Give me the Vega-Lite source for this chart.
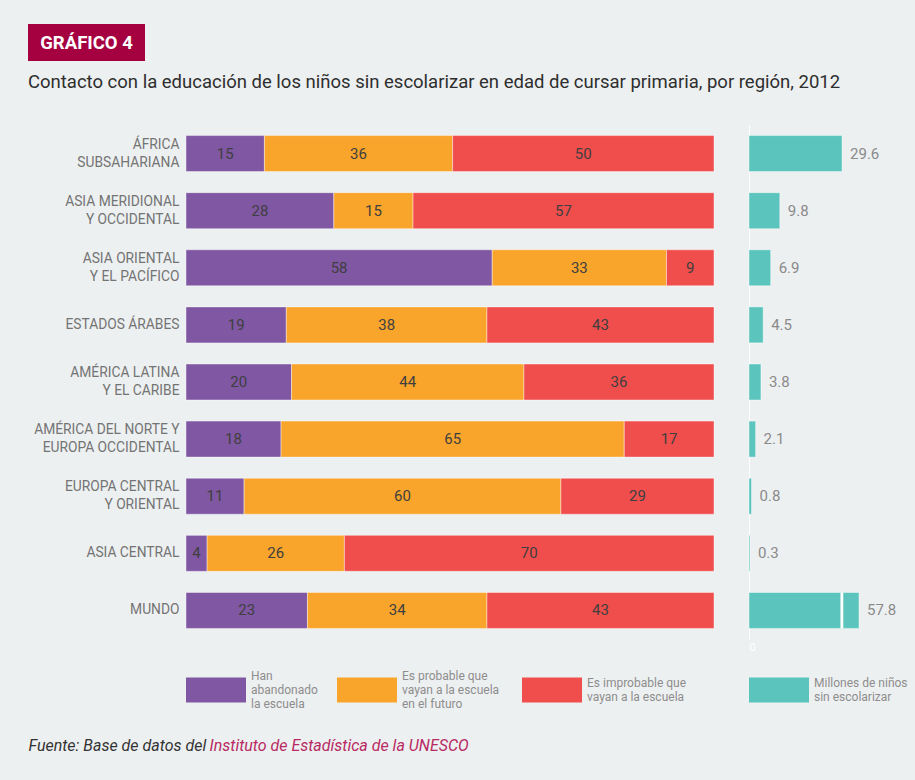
{
  "$schema": "https://vega.github.io/schema/vega-lite/v6.json",
  "background": "#edf0f1",
  "padding": {"left": 28, "top": 24, "right": 18, "bottom": 25},
  "config": {
    "view": {"stroke": null},
    "font": "Roboto"
  },
  "datasets": {
    "main": [
      {"region": "ÁFRICA|SUBSAHARIANA", "category": "Han abandonado la escuela", "order": 1, "pct": 15},
      {"region": "ÁFRICA|SUBSAHARIANA", "category": "Es probable que vayan a la escuela en el futuro", "order": 2, "pct": 36},
      {"region": "ÁFRICA|SUBSAHARIANA", "category": "Es improbable que vayan a la escuela", "order": 3, "pct": 50},
      {"region": "ASIA MERIDIONAL|Y OCCIDENTAL", "category": "Han abandonado la escuela", "order": 1, "pct": 28},
      {"region": "ASIA MERIDIONAL|Y OCCIDENTAL", "category": "Es probable que vayan a la escuela en el futuro", "order": 2, "pct": 15},
      {"region": "ASIA MERIDIONAL|Y OCCIDENTAL", "category": "Es improbable que vayan a la escuela", "order": 3, "pct": 57},
      {"region": "ASIA ORIENTAL|Y EL PACÍFICO", "category": "Han abandonado la escuela", "order": 1, "pct": 58},
      {"region": "ASIA ORIENTAL|Y EL PACÍFICO", "category": "Es probable que vayan a la escuela en el futuro", "order": 2, "pct": 33},
      {"region": "ASIA ORIENTAL|Y EL PACÍFICO", "category": "Es improbable que vayan a la escuela", "order": 3, "pct": 9},
      {"region": "ESTADOS ÁRABES", "category": "Han abandonado la escuela", "order": 1, "pct": 19},
      {"region": "ESTADOS ÁRABES", "category": "Es probable que vayan a la escuela en el futuro", "order": 2, "pct": 38},
      {"region": "ESTADOS ÁRABES", "category": "Es improbable que vayan a la escuela", "order": 3, "pct": 43},
      {"region": "AMÉRICA LATINA|Y EL CARIBE", "category": "Han abandonado la escuela", "order": 1, "pct": 20},
      {"region": "AMÉRICA LATINA|Y EL CARIBE", "category": "Es probable que vayan a la escuela en el futuro", "order": 2, "pct": 44},
      {"region": "AMÉRICA LATINA|Y EL CARIBE", "category": "Es improbable que vayan a la escuela", "order": 3, "pct": 36},
      {"region": "AMÉRICA DEL NORTE Y|EUROPA OCCIDENTAL", "category": "Han abandonado la escuela", "order": 1, "pct": 18},
      {"region": "AMÉRICA DEL NORTE Y|EUROPA OCCIDENTAL", "category": "Es probable que vayan a la escuela en el futuro", "order": 2, "pct": 65},
      {"region": "AMÉRICA DEL NORTE Y|EUROPA OCCIDENTAL", "category": "Es improbable que vayan a la escuela", "order": 3, "pct": 17},
      {"region": "EUROPA CENTRAL|Y ORIENTAL", "category": "Han abandonado la escuela", "order": 1, "pct": 11},
      {"region": "EUROPA CENTRAL|Y ORIENTAL", "category": "Es probable que vayan a la escuela en el futuro", "order": 2, "pct": 60},
      {"region": "EUROPA CENTRAL|Y ORIENTAL", "category": "Es improbable que vayan a la escuela", "order": 3, "pct": 29},
      {"region": "ASIA CENTRAL", "category": "Han abandonado la escuela", "order": 1, "pct": 4},
      {"region": "ASIA CENTRAL", "category": "Es probable que vayan a la escuela en el futuro", "order": 2, "pct": 26},
      {"region": "ASIA CENTRAL", "category": "Es improbable que vayan a la escuela", "order": 3, "pct": 70},
      {"region": "MUNDO", "category": "Han abandonado la escuela", "order": 1, "pct": 23},
      {"region": "MUNDO", "category": "Es probable que vayan a la escuela en el futuro", "order": 2, "pct": 34},
      {"region": "MUNDO", "category": "Es improbable que vayan a la escuela", "order": 3, "pct": 43}
    ],
    "mil": [
      {"region": "ÁFRICA|SUBSAHARIANA", "millones": 29.6},
      {"region": "ASIA MERIDIONAL|Y OCCIDENTAL", "millones": 9.8},
      {"region": "ASIA ORIENTAL|Y EL PACÍFICO", "millones": 6.9},
      {"region": "ESTADOS ÁRABES", "millones": 4.5},
      {"region": "AMÉRICA LATINA|Y EL CARIBE", "millones": 3.8},
      {"region": "AMÉRICA DEL NORTE Y|EUROPA OCCIDENTAL", "millones": 2.1},
      {"region": "EUROPA CENTRAL|Y ORIENTAL", "millones": 0.8},
      {"region": "ASIA CENTRAL", "millones": 0.3},
      {"region": "MUNDO", "millones": 57.8}
    ]
  },
  "spacing": 33,
  "vconcat": [
    {
      "width": 117,
      "height": 37,
      "view": {"fill": "#a5003f", "stroke": null},
      "data": {"values": [{}]},
      "title": {
        "text": "Contacto con la educación de los niños sin escolarizar en edad de cursar primaria, por región, 2012",
        "orient": "bottom",
        "anchor": "start",
        "frame": "group",
        "offset": 12,
        "fontSize": 18.5,
        "fontWeight": "normal",
        "color": "#2e2e2e",
        "font": "Roboto"
      },
      "mark": {"type": "text", "text": "GRÁFICO 4", "color": "#ffffff", "fontSize": 18.5, "fontWeight": "bold", "font": "Roboto"},
      "encoding": {}
    },
    {
      "spacing": 26,
      "vconcat": [
        {
          "hconcat": [
            {
              "width": 123,
              "height": 514,
              "data": {"name": "mil"},
              "mark": {"type": "bar", "opacity": 0},
              "encoding": {
                "y": {
                  "field": "region",
                  "type": "nominal",
                  "sort": ["ÁFRICA|SUBSAHARIANA", "ASIA MERIDIONAL|Y OCCIDENTAL", "ASIA ORIENTAL|Y EL PACÍFICO", "ESTADOS ÁRABES", "AMÉRICA LATINA|Y EL CARIBE", "AMÉRICA DEL NORTE Y|EUROPA OCCIDENTAL", "EUROPA CENTRAL|Y ORIENTAL", "ASIA CENTRAL", "MUNDO"],
                  "scale": {"paddingInner": 0.37, "paddingOuter": 0.185},
                  "axis": {
                    "orient": "right",
                    "title": null,
                    "domain": false,
                    "ticks": false,
                    "labelAlign": "right",
                    "labelPadding": 28,
                    "labelFontSize": 13.8,
                    "labelColor": "#747474",
                    "labelLineHeight": 18,
                    "labelLimit": 300,
                    "labelOffset": {"condition": {"test": "indexof(datum.value, '|') >= 0", "value": -9}, "value": 0},
                    "labelExpr": "split(datum.label, '|')"
                  }
                }
              }
            },
            {
              "width": 528,
              "height": 514,
              "data": {"name": "main"},
              "transform": [
                {"stack": "pct", "groupby": ["region"], "sort": [{"field": "order", "order": "ascending"}], "as": ["x0", "x1"], "offset": "normalize"},
                {"calculate": "(datum.x0 + datum.x1) / 2", "as": "xm"}
              ],
              "encoding": {
                "y": {
                  "field": "region",
                  "type": "nominal",
                  "sort": ["ÁFRICA|SUBSAHARIANA", "ASIA MERIDIONAL|Y OCCIDENTAL", "ASIA ORIENTAL|Y EL PACÍFICO", "ESTADOS ÁRABES", "AMÉRICA LATINA|Y EL CARIBE", "AMÉRICA DEL NORTE Y|EUROPA OCCIDENTAL", "EUROPA CENTRAL|Y ORIENTAL", "ASIA CENTRAL", "MUNDO"],
                  "scale": {"paddingInner": 0.37, "paddingOuter": 0.185},
                  "axis": null
                }
              },
              "layer": [
                {
                  "mark": {"type": "bar", "stroke": "#ffffff", "strokeWidth": 0.7, "strokeOpacity": 0.6},
                  "encoding": {
                    "x": {
                      "field": "x0",
                      "type": "quantitative",
                      "scale": {"domain": [0, 1], "nice": false},
                      "axis": {
                        "title": null,
                        "values": [0, 0.2, 0.4, 0.6, 0.8, 1],
                        "labelExpr": "datum.value == 1 ? '100%' : format(datum.value * 100, 'd')",
                        "domain": false,
                        "ticks": false,
                        "grid": true,
                        "gridColor": "#d9dddd",
                        "labelColor": "#8a8a8a",
                        "labelFontSize": 15,
                        "labelPadding": 1
                      }
                    },
                    "x2": {"field": "x1"},
                    "color": {
                      "field": "category",
                      "type": "nominal",
                      "scale": {
                        "domain": ["Han abandonado la escuela", "Es probable que vayan a la escuela en el futuro", "Es improbable que vayan a la escuela"],
                        "range": ["#7f57a3", "#f9a52b", "#f04e4d"]
                      },
                      "legend": {
                        "values": ["Han abandonado la escuela", "Es probable que vayan a la escuela en el futuro"],
                        "orient": "none",
                        "legendX": 0,
                        "legendY": 521,
                        "direction": "horizontal",
                        "columns": 2,
                        "title": null,
                        "padding": 0,
                        "symbolType": "M-1,0.05H1V0.8833H-1Z",
                        "symbolSize": 3600,
                        "symbolStrokeWidth": 0,
                        "symbolOpacity": 1,
                        "labelOffset": 5,
                        "labelFontSize": 12,
                        "labelColor": "#8d8d8d",
                        "labelLimit": 300,
                        "columnPadding": 19,
                        "labelExpr": "datum.label == 'Han abandonado la escuela' ? ['Han', 'abandonado', 'la escuela'] : ['Es probable que', 'vayan a la escuela', 'en el futuro']"
                      }
                    },
                    "order": {"field": "order", "type": "quantitative"}
                  }
                },
                {
                  "mark": {"type": "text", "color": "#3f3f3f", "fontSize": 15},
                  "encoding": {
                    "x": {"field": "xm", "type": "quantitative", "axis": null},
                    "text": {"field": "pct", "type": "quantitative"}
                  }
                }
              ]
            },
            {
              "width": 110,
              "height": 514,
              "encoding": {
                "y": {
                  "field": "region",
                  "type": "nominal",
                  "sort": ["ÁFRICA|SUBSAHARIANA", "ASIA MERIDIONAL|Y OCCIDENTAL", "ASIA ORIENTAL|Y EL PACÍFICO", "ESTADOS ÁRABES", "AMÉRICA LATINA|Y EL CARIBE", "AMÉRICA DEL NORTE Y|EUROPA OCCIDENTAL", "EUROPA CENTRAL|Y ORIENTAL", "ASIA CENTRAL", "MUNDO"],
                  "scale": {"paddingInner": 0.37, "paddingOuter": 0.185},
                  "axis": null
                }
              },
              "layer": [
                {
                  "data": {"name": "mil"},
                  "mark": {"type": "bar", "stroke": "#ffffff", "strokeWidth": 0.7, "strokeOpacity": 0.6},
                  "encoding": {
                    "x": {
                      "field": "millones",
                      "type": "quantitative",
                      "scale": {"domain": [0, 35], "clamp": true, "nice": false},
                      "axis": {
                        "title": null,
                        "values": [0],
                        "domain": false,
                        "ticks": false,
                        "grid": true,
                        "gridColor": "#ffffff",
                        "labelColor": "#ffffff",
                        "labelFontSize": 11,
                        "labelPadding": 2
                      }
                    },
                    "color": {
                      "datum": "Millones de niños sin escolarizar",
                      "type": "nominal",
                      "scale": {"domain": ["Es improbable que vayan a la escuela", "Millones de niños sin escolarizar"], "range": ["#f04e4d", "#5bc5bd"]},
                      "legend": {
                        "orient": "none",
                        "legendX": -227,
                        "legendY": 528,
                        "direction": "horizontal",
                        "columns": 2,
                        "title": null,
                        "padding": 0,
                        "symbolType": "M-1,-0.1833H1V0.65H-1Z",
                        "symbolSize": 3600,
                        "symbolStrokeWidth": 0,
                        "symbolOpacity": 1,
                        "labelOffset": 5,
                        "labelFontSize": 12,
                        "labelColor": "#8d8d8d",
                        "labelLimit": 300,
                        "columnPadding": 62,
                        "labelExpr": "datum.label == 'Millones de niños sin escolarizar' ? ['Millones de niños', 'sin escolarizar'] : ['Es improbable que', 'vayan a la escuela']"
                      }
                    }
                  }
                },
                {
                  "data": {"values": [{}]},
                  "mark": {"type": "bar", "color": "#ffffff"},
                  "encoding": {
                    "x": {"datum": 29.1},
                    "x2": {"datum": 30.0},
                    "y": {"datum": "MUNDO"}
                  }
                },
                {
                  "data": {"name": "mil"},
                  "mark": {"type": "text", "align": "left", "dx": 8, "color": "#8a8a8a", "fontSize": 15},
                  "encoding": {
                    "x": {"field": "millones", "type": "quantitative"},
                    "text": {"field": "millones", "type": "quantitative", "format": ".1f"}
                  }
                }
              ]
            }
          ],
          "spacing": 35,
          "bounds": "flush",
          "resolve": {"scale": {"color": "independent", "y": "independent", "x": "independent"}, "legend": {"color": "independent"}}
        },
        {
          "width": 1,
          "height": 20,
          "data": {"values": [{}]},
          "layer": [
            {
              "mark": {"type": "text", "text": "Fuente: Base de datos del", "align": "left", "fontStyle": "italic", "fontSize": 16, "color": "#333333"},
              "encoding": {}
            },
            {
              "mark": {"type": "text", "text": "Instituto de Estadística de la UNESCO", "align": "left", "dx": 181, "fontStyle": "italic", "fontSize": 16, "color": "#b82a63"},
              "encoding": {}
            }
          ]
        }
      ]
    }
  ]
}
